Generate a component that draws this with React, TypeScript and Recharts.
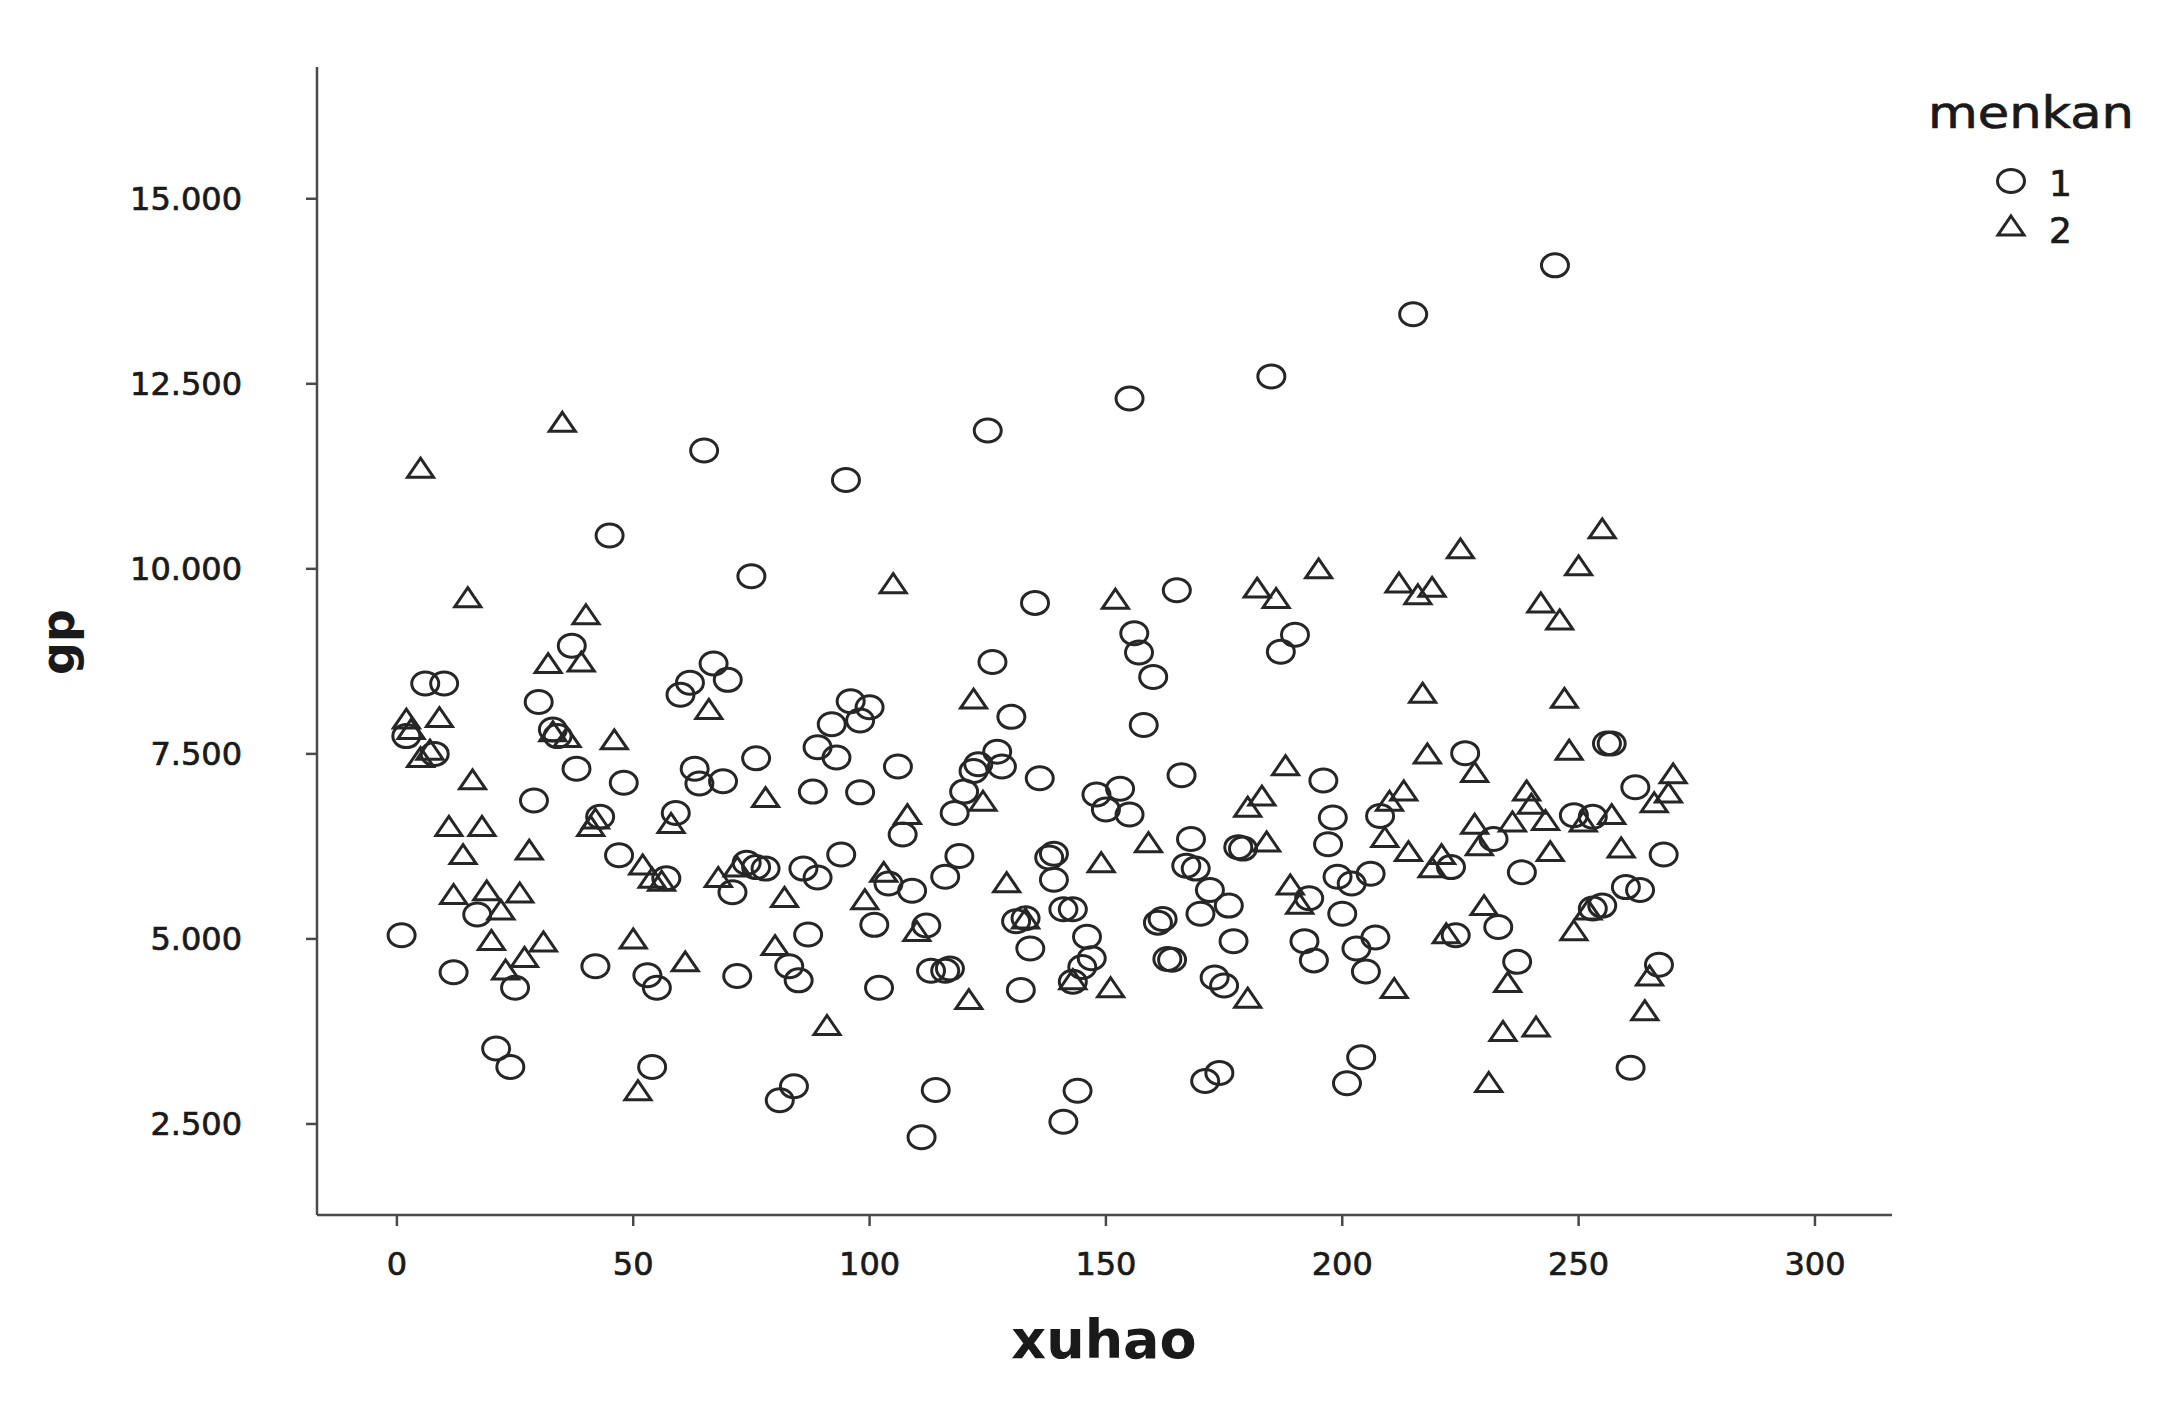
import { ScatterChart, Scatter, XAxis, YAxis } from "recharts";

// menkan = 1 (circles)
const g1X = [1, 2, 6, 8, 10, 12, 17, 21, 24, 25, 29, 30, 33, 34, 37, 38, 42, 43, 45, 47, 48, 53, 54, 55, 57, 59, 60, 62, 63, 64, 65, 67, 69, 70, 71, 72, 74, 75, 76, 76, 78, 81, 83, 84, 85, 86, 87, 88, 89, 89, 92, 93, 94, 95, 96, 98, 98, 100, 101, 102, 104, 106, 107, 109, 111, 112, 113, 114, 116, 116, 117, 118, 119, 120, 122, 123, 125, 126, 127, 128, 130, 131, 132, 133, 134, 135, 136, 138, 139, 139, 141, 141, 143, 143, 144, 145, 146, 147, 148, 150, 153, 155, 155, 156, 157, 158, 160, 161, 162, 163, 164, 165, 166, 167, 168, 169, 170, 171, 172, 173, 174, 175, 176, 177, 178, 179, 185, 187, 190, 192, 193, 194, 196, 197, 198, 199, 200, 201, 202, 203, 204, 205, 206, 207, 208, 215, 223, 224, 226, 232, 233, 237, 238, 245, 249, 253, 253, 255, 256, 257, 260, 261, 262, 263, 267, 268];
const g1Y = [5.05, 7.74, 8.45, 7.5, 8.45, 4.55, 5.33, 3.52, 3.27, 4.34, 6.87, 8.2, 7.83, 7.74, 8.96, 7.3, 4.63, 6.65, 10.45, 6.13, 7.11, 4.51, 3.27, 4.34, 5.82, 6.7, 8.3, 8.46, 7.3, 7.1, 11.6, 8.72, 7.13, 8.5, 5.63, 4.5, 6.03, 9.9, 7.44, 5.97, 5.95, 2.82, 4.63, 3.01, 4.44, 5.95, 5.06, 6.99, 5.83, 7.59, 7.9, 7.45, 6.14, 11.2, 8.21, 7.95, 6.98, 8.13, 5.19, 4.34, 5.75, 7.33, 6.41, 5.65, 2.32, 5.18, 4.57, 2.96, 5.84, 4.57, 4.6, 6.7, 6.12, 6.99, 7.27, 7.36, 11.87, 8.74, 7.53, 7.33, 8.0, 5.24, 4.31, 5.28, 4.87, 9.54, 7.17, 6.1, 6.15, 5.8, 2.53, 5.4, 5.4, 4.42, 2.95, 4.62, 5.03, 4.74, 6.95, 6.75, 7.03, 6.68, 12.3, 9.13, 8.87, 7.89, 8.54, 5.22, 5.27, 4.73, 4.72, 9.71, 7.21, 5.99, 6.35, 5.95, 5.34, 3.08, 5.66, 4.48, 3.19, 4.37, 5.45, 4.97, 6.24, 6.22, 12.6, 8.88, 9.11, 4.97, 5.55, 4.71, 7.14, 6.28, 6.64, 5.84, 5.34, 3.05, 5.75, 4.87, 3.4, 4.56, 5.88, 5.02, 6.66, 13.44, 5.97, 5.05, 7.51, 6.35, 5.16, 4.69, 5.9, 14.1, 6.67, 6.65, 5.41, 5.45, 7.64, 7.64, 5.7, 3.26, 7.05, 5.66, 4.65, 6.14];

// menkan = 2 (triangles)
const g2X = [2, 3, 5, 5, 7, 9, 11, 12, 14, 15, 16, 18, 19, 20, 22, 23, 26, 27, 28, 31, 32, 33, 35, 36, 39, 40, 41, 42, 46, 50, 51, 52, 54, 56, 58, 61, 66, 68, 72, 78, 80, 82, 91, 99, 103, 105, 108, 110, 121, 122, 124, 129, 133, 143, 149, 151, 152, 159, 180, 180, 182, 183, 184, 186, 188, 189, 191, 195, 209, 210, 211, 212, 213, 214, 216, 217, 218, 219, 219, 221, 222, 225, 228, 228, 229, 230, 231, 234, 235, 236, 239, 240, 241, 242, 243, 244, 246, 247, 248, 249, 250, 251, 252, 255, 257, 259, 264, 265, 266, 269, 270];
const g2Y = [7.97, 7.83, 11.36, 7.45, 7.55, 7.99, 6.52, 5.6, 6.14, 9.61, 7.15, 6.52, 5.65, 4.98, 5.39, 4.58, 5.62, 4.75, 6.2, 4.96, 8.72, 7.8, 11.98, 7.72, 8.74, 9.38, 6.52, 6.62, 7.69, 5.0, 2.95, 6.0, 5.82, 5.78, 6.56, 4.69, 8.1, 5.83, 5.97, 6.91, 4.91, 5.56, 3.83, 5.53, 5.9, 9.8, 6.68, 5.1, 4.18, 8.24, 6.86, 5.76, 5.27, 4.45, 6.03, 4.34, 9.59, 6.3, 4.2, 6.78, 9.74, 6.93, 6.31, 9.6, 7.34, 5.73, 5.47, 10.0, 6.37, 6.86, 4.33, 9.81, 7.0, 6.18, 9.65, 8.32, 7.5, 5.96, 9.75, 6.14, 5.07, 10.27, 6.55, 7.25, 6.26, 5.45, 3.06, 3.75, 4.41, 6.58, 7.0, 6.82, 3.81, 9.54, 6.6, 6.18, 9.31, 8.25, 7.55, 5.11, 10.04, 6.58, 5.39, 10.54, 6.68, 6.23, 4.03, 4.5, 6.84, 6.97, 7.23];

const xTicks = [0, 50, 100, 150, 200, 250, 300];
const yTicks = [2.5, 5, 7.5, 10, 12.5, 15];

const group1 = g1X.map((x, i) => ({ xuhao: x, gp: g1Y[i] }));
const group2 = g2X.map((x, i) => ({ xuhao: x, gp: g2Y[i] }));

const FONT = "'DejaVu Sans', 'Liberation Sans', Arial, sans-serif";
const INK = "#262626";
const TEXT = "#1a1a1a";

const CircleMark = (p: any) => (
  <ellipse cx={p.cx} cy={p.cy} rx={13.5} ry={11.5} fill="none" stroke={INK} strokeWidth={3} />
);

const TriMark = (p: any) => (
  <path
    d={`M${p.cx},${p.cy - 10} L${p.cx + 13},${p.cy + 9} L${p.cx - 13},${p.cy + 9} Z`}
    fill="none"
    stroke={INK}
    strokeWidth={3}
  />
);

const tickStyle = { fontSize: 32, fill: TEXT, fontFamily: FONT, stroke: TEXT, strokeWidth: 0.7 };

export default function App() {
  return (
    <div style={{ position: "absolute", left: 0, top: 0, width: 2178, height: 1410, background: "#fff" }}>
      <ScatterChart
        width={2178}
        height={1410}
        margin={{ top: 67, right: 286, left: 117, bottom: 95 }}
      >
        <XAxis
          type="number"
          dataKey="xuhao"
          domain={[-16.9, 316.3]}
          ticks={xTicks}
          allowDataOverflow
          height={100}
          stroke="#4a4a4a"
          strokeWidth={2.5}
          tickSize={11}
          tickMargin={26}
          tick={tickStyle}
        />
        <YAxis
          type="number"
          dataKey="gp"
          domain={[1.27, 16.78]}
          ticks={yTicks}
          allowDataOverflow
          width={200}
          stroke="#4a4a4a"
          strokeWidth={2.5}
          tickSize={11}
          tickMargin={64}
          tickFormatter={(v: number) => v.toFixed(3)}
          tick={tickStyle}
        />
        <Scatter name="1" data={group1} shape={CircleMark} isAnimationActive={false} />
        <Scatter name="2" data={group2} shape={TriMark} isAnimationActive={false} />
      </ScatterChart>
      <svg
        width={2178}
        height={1410}
        style={{ position: "absolute", left: 0, top: 0, pointerEvents: "none" }}
      >
        <text x={1104} y={1358} textAnchor="middle" fontFamily={FONT} fontWeight="bold" fontSize={54} fill={TEXT}>
          xuhao
        </text>
        <text
          x={0}
          y={0}
          transform="translate(74,642) rotate(-90)"
          textAnchor="middle"
          fontFamily={FONT}
          fontWeight="bold"
          fontSize={46}
          fill={TEXT}
        >
          gp
        </text>
        <text
          x={1928}
          y={128}
          fontFamily={FONT}
          fontSize={44}
          fill={TEXT}
          stroke={TEXT}
          strokeWidth={0.7}
          textLength={206}
          lengthAdjust="spacingAndGlyphs"
        >
          menkan
        </text>
        <CircleMark cx={2011} cy={181} />
        <text x={2049} y={196} fontFamily={FONT} fontSize={36} fill={TEXT} stroke={TEXT} strokeWidth={0.7}>
          1
        </text>
        <TriMark cx={2011} cy={226} />
        <text x={2049} y={243} fontFamily={FONT} fontSize={36} fill={TEXT} stroke={TEXT} strokeWidth={0.7}>
          2
        </text>
      </svg>
    </div>
  );
}
